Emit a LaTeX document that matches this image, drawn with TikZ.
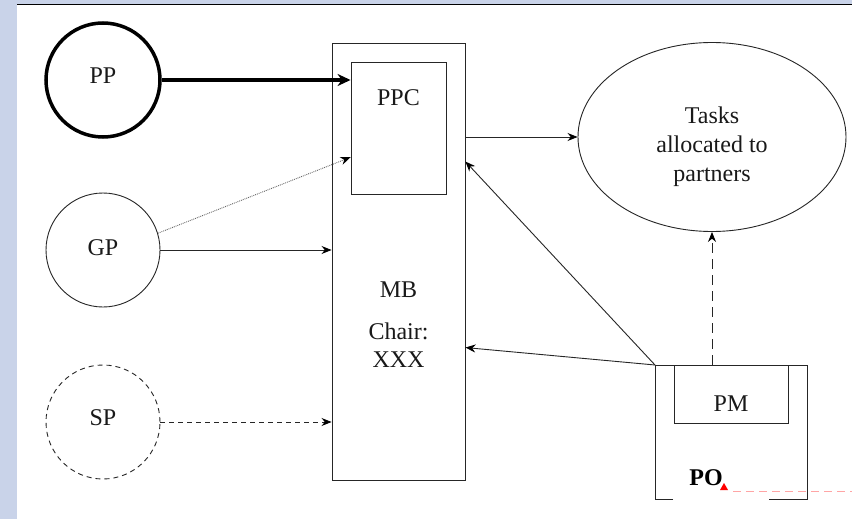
\documentclass[tikz,border=0pt]{standalone}
\usepackage{fontspec}
\setmainfont{Liberation Serif}
\usetikzlibrary{arrows.meta,calc,shapes.geometric}
\definecolor{band}{RGB}{201,211,233}
\definecolor{pinkline}{RGB}{255,165,165}
\begin{document}
\begin{tikzpicture}[x=1pt,y=-1pt,
  every node/.style={font=\fontsize{24}{29}\selectfont},
  ln/.style={line width=0.9pt, draw=black!85},
  party/.style={circle, minimum size=114pt, inner sep=0pt, ln},
  box/.style={rectangle, inner sep=0pt, ln},
  lbl/.style={anchor=base, inner sep=0pt, text=black!90},
  arr/.style={ln, -{Stealth[length=10pt,width=8pt,black]}},
]
\useasboundingbox (0,0) rectangle (852,519);
\fill[white] (0,0) rectangle (852,519);
\fill[band] (0,0) rectangle (17,519);
\fill[band] (0,0) rectangle (852,4);
\draw[line width=1.5pt] (17,4.5) -- (852,4.5);

% parties
\node[party, line width=3.5pt, draw=black] (pp) at (103,80) {};
\node[lbl] (pplbl) at (103,84) {PP};
\node[party] (gp) at (103,250) {};
\node[lbl] (gplbl) at (103,255) {GP};
\node[party, dash pattern=on 5pt off 4pt] (sp) at (103,422) {};
\node[lbl] (splbl) at (103,425) {SP};

% management board
\node[box, minimum width=133pt, minimum height=437pt] (mb) at (398.5,261.5) {};
\node[box, minimum width=95pt, minimum height=132pt] (ppc) at (398.5,128) {};
\node[lbl] (ppclbl) at (398.5,106) {PPC};
\node[lbl] (mblbl) at (398.5,297) {MB};
\node[lbl] (chairlbl) at (398.5,339) {Chair:};
\node[lbl] (xxxlbl) at (398.5,367) {XXX};

% tasks
\node[ellipse, ln, minimum width=268pt, minimum height=189pt, inner sep=0pt] (tasks) at (712,137) {};
\node[lbl] (t1) at (712,123) {Tasks};
\node[lbl] (t2) at (712,152) {allocated to};
\node[lbl] (t3) at (712,181) {partners};

% project office
\coordinate (po) at (655,365);
\draw[ln] (673,499) -- (655,499) -- (po) -- (807,365) -- (807,499) -- (769,499);
\node[box, minimum width=114pt, minimum height=58pt] (pm) at (731,394) {};
\node[lbl] (pmlbl) at (731,411) {PM};
\node[lbl, font=\fontsize{24}{29}\selectfont\bfseries, text=black] (polbl) at (706,485) {PO};
\coordinate (redmark) at (724,487);
\fill[red] ($(redmark)+(-4,3)$) -- ($(redmark)+(4,3)$) -- ($(redmark)+(0,-4)$) -- cycle;
\draw[pinkline, line width=1.3pt, dash pattern=on 8pt off 5pt] ($(redmark)+(9,4.5)$) -- (852,491.5);

% connectors
\draw[line width=3.5pt, -{Stealth[length=13pt,width=12pt]}] (pp.east) -- (ppc.west |- pp.east);
\draw[arr, densely dotted, draw=black!60] (gp.17) -- ($(ppc.south west)!0.28!(ppc.north west)$);
\draw[arr] (gp.east) -- (mb.west |- gp.east);
\draw[arr, dash pattern=on 5pt off 4pt] (sp.east) -- (mb.west |- sp.east);
\draw[arr] (mb.east |- tasks.west) -- (tasks.west);
\draw[arr] (po) -- ([yshift=-119pt]mb.north east);
\draw[arr] (po) -- ([yshift=-305pt]mb.north east);
\draw[arr, dash pattern=on 10pt off 6pt] (tasks.south |- pm.north) -- (tasks.south);
\end{tikzpicture}
\end{document}
